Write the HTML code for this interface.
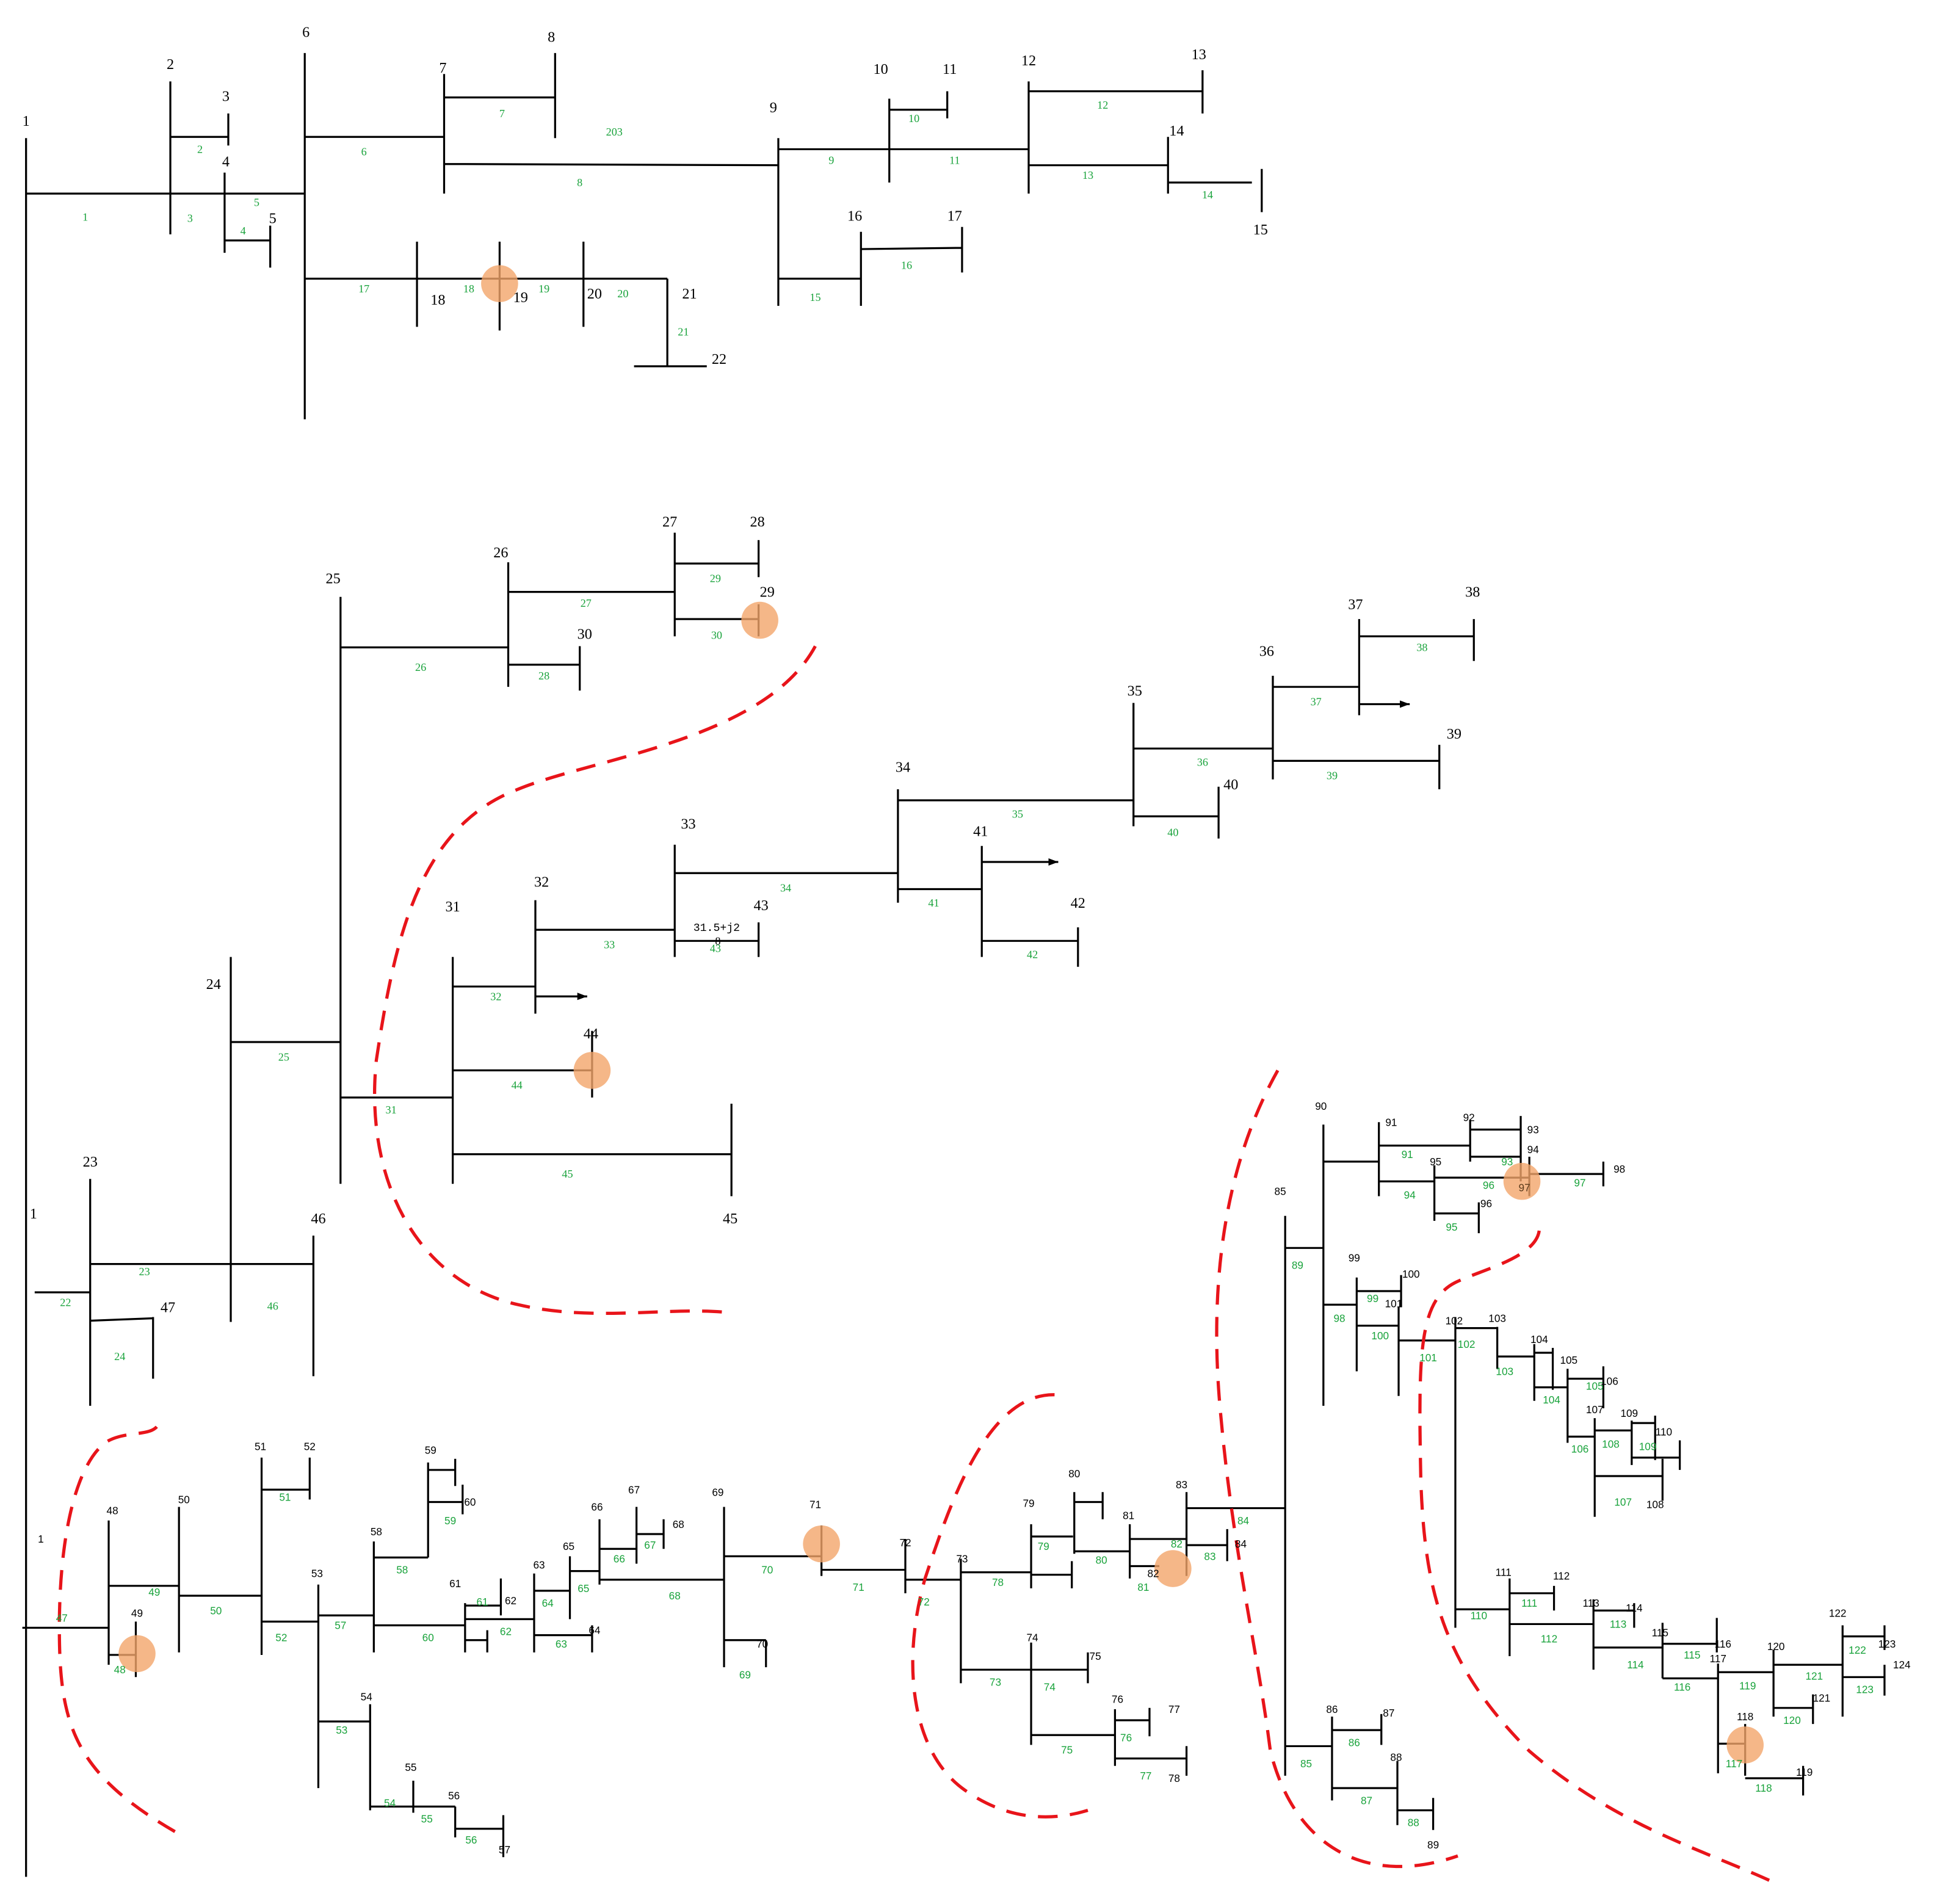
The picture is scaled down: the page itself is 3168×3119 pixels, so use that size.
<!DOCTYPE html>
<html><head><meta charset="utf-8">
<style>
html,body{margin:0;padding:0;background:#fff;}
svg{display:block;}
.b{font-family:"Liberation Serif",serif;font-size:12px;fill:#000;text-anchor:middle;}
.g{font-family:"Liberation Serif",serif;font-size:9px;fill:#1aa33c;text-anchor:middle;}
.s{font-family:"Liberation Sans",sans-serif;font-size:8.5px;fill:#000;text-anchor:middle;}
.h{font-family:"Liberation Sans",sans-serif;font-size:8.5px;fill:#1aa33c;text-anchor:middle;}
</style></head>
<body>
<svg width="3168" height="3119" viewBox="0 0 1568 1544" xmlns="http://www.w3.org/2000/svg">
<defs><marker id="ar" markerWidth="8" markerHeight="6" refX="8" refY="3" orient="auto" markerUnits="userSpaceOnUse"><path d="M0,0L8,3L0,6Z" fill="#000"/></marker></defs>
<g stroke="#000" stroke-width="1.6" fill="none">
<!-- top -->
<path d="M21,112V1522 M21,157H247 M138,66V190 M138,111H185 M185,92V118 M182,140V205 M182,195H219 M219,183V217 M247,43V340 M247,111H360 M360,60V157 M360,79H450 M450,43V112 M360,133L631,134 M631,112V248 M631,121H834 M721,80V148 M721,89H768 M768,74V96 M834,66V157 M834,74H975 M975,57V92 M834,134H947 M947,111V157 M947,148H1015 M1023,137V172 M631,226H698 M698,188V248 M698,202L780,201 M780,184V221 M247,226H541 M338,196V265 M405,196V268 M473,196V265 M541,226V297 M514,297H573"/>
<!-- middle -->
<path d="M276,484V960 M276,525H412 M412,456V557 M412,480H547 M547,432V516 M547,457H615 M615,438V468 M547,502H615 M615,490V516 M412,539H470 M470,524V560 M187,776V1072 M187,845H276 M276,890H367 M367,776V960 M367,800H434 M434,730V822 M434,754H547 M547,685V776 M547,763H615 M615,748V776 M547,708H728 M728,640V732 M728,649H919 M919,570V670 M919,607H1032 M1032,548V632 M1032,557H1102 M1102,502V580 M1102,516H1195 M1195,502V536 M1032,617H1167 M1167,604V640 M919,662H988 M988,638V680 M728,721H796 M796,686V776 M796,763H874 M874,752V784 M367,868H480 M480,836V890 M367,936H593 M593,895V970 M73,956V1140 M28,1048H73 M73,1025H254 M254,1002V1116 M73,1071L124,1069 M124,1068V1118"/>
<path d="M434,808H476" marker-end="url(#ar)"/>
<path d="M1102,571H1143" marker-end="url(#ar)"/>
<path d="M796,699H858" marker-end="url(#ar)"/>
<!-- bottom left -->
<path d="M18,1320H88 M88,1233V1350 M88,1286H145 M145,1222V1340 M88,1342H110 M110,1315V1360 M145,1294H212 M212,1182V1342 M212,1208H251 M251,1182V1216 M212,1315H258 M258,1285V1450 M258,1310H303 M303,1250V1340 M303,1263H347 M347,1186V1263 M347,1192H369 M369,1183V1205 M347,1218H375 M375,1204V1228 M303,1318H377 M377,1300V1340 M377,1302H406 M406,1280V1310 M377,1330H395 M395,1322V1340 M377,1313H433 M433,1276V1340 M433,1290H462 M462,1262V1313 M433,1326H480 M480,1318V1340 M462,1274H486 M486,1232V1285 M486,1256H516 M516,1222V1268 M516,1244H538 M538,1232V1256 M486,1281H587 M587,1222V1352 M587,1330H621 M621,1330V1352 M587,1262H666 M666,1237V1278 M666,1273H734 M734,1248V1292 M734,1281H779 M779,1264V1365 M779,1275H836 M836,1236V1288 M836,1246H870 M836,1277H869 M869,1266V1288 M871,1210V1260 M871,1218H894 M894,1210V1232 M871,1258H916 M916,1236V1280 M916,1270H940 M916,1248H962 M962,1210V1278 M962,1253H995 M995,1240V1266 M962,1223H1042 M1042,986V1440 M779,1354H882 M882,1340V1365 M836,1332V1415 M836,1407H904 M904,1386V1432 M904,1395H932 M932,1385V1408 M904,1426H962 M962,1416V1440 M258,1396H300 M300,1382V1468 M300,1465H335 M335,1444V1470 M335,1465H369 M369,1465V1490 M369,1483H408 M408,1472V1506"/>
<!-- right -->
<path d="M1073,912V1140 M1042,1012H1073 M1073,942H1118 M1118,910V970 M1118,929H1192 M1192,908V942 M1192,916H1233 M1192,938H1233 M1233,905V958 M1118,958H1163 M1163,945V990 M1163,955H1240 M1240,938V970 M1240,952H1300 M1300,942V962 M1163,984H1199 M1199,975V1000 M1073,1058H1100 M1100,1036V1112 M1100,1047H1136 M1136,1034V1060 M1100,1075H1134 M1134,1060V1132 M1134,1087H1180 M1180,1068V1320 M1180,1077H1214 M1214,1076V1110 M1214,1100H1244 M1244,1090V1136 M1244,1097H1259 M1259,1093V1127 M1244,1125H1271 M1271,1110V1170 M1271,1118H1300 M1300,1108V1142 M1271,1165H1293 M1293,1150V1230 M1293,1160H1323 M1323,1152V1188 M1323,1154H1342 M1342,1148V1184 M1323,1182H1362 M1362,1168V1192 M1293,1197H1348 M1348,1183V1217 M1180,1305H1224 M1224,1280V1343 M1224,1292H1260 M1260,1286V1306 M1224,1317H1292 M1292,1297V1354 M1292,1306H1325 M1325,1300V1320 M1292,1336H1348 M1348,1316V1361 M1348,1333H1392 M1392,1312V1340 M1348,1361H1393 M1393,1349V1438 M1393,1356H1438 M1438,1338V1392 M1438,1350H1494 M1494,1318V1392 M1494,1327H1528 M1528,1318V1338 M1494,1360H1528 M1528,1350V1375 M1438,1385H1470 M1470,1374V1398 M1393,1414H1415 M1415,1398V1440 M1415,1442H1462 M1462,1432V1456 M1042,1416H1080 M1080,1392V1460 M1080,1403H1120 M1120,1390V1415 M1080,1450H1133 M1133,1428V1480 M1133,1468H1162 M1162,1458V1484"/>
</g>
<!-- circles -->
<g fill="#f2a56a" fill-opacity="0.8">
<circle cx="405" cy="230" r="15"/><circle cx="616" cy="503" r="15"/><circle cx="480" cy="868" r="15"/>
<circle cx="111" cy="1341" r="15"/><circle cx="666" cy="1252" r="15"/><circle cx="951" cy="1272" r="15"/>
<circle cx="1234" cy="958" r="15"/><circle cx="1415" cy="1415" r="15"/>
</g>
<!-- dashed curves -->
<g stroke="#e8141a" stroke-width="2.6" fill="none" stroke-dasharray="16,10">
<path d="M661,524 C620,600 480,615 420,640 C340,670 320,760 305,860 C295,960 340,1040 420,1058 C480,1072 540,1060 587,1064"/>
<path d="M1036,868 C990,950 980,1050 990,1150 C1000,1260 1020,1340 1030,1420 C1050,1500 1110,1530 1182,1505"/>
<path d="M1248,998 C1245,1020 1200,1030 1180,1040 C1150,1055 1150,1100 1152,1200 C1155,1290 1170,1350 1240,1420 C1310,1480 1380,1500 1435,1525"/>
<path d="M855,1131 C800,1130 770,1220 750,1280 C730,1350 740,1420 780,1450 C820,1480 860,1475 882,1468"/>
<path d="M127,1157 C120,1165 100,1160 85,1170 C60,1190 48,1250 48,1320 C48,1400 60,1440 150,1490"/>
</g>
<!-- top labels -->
<g class="b">
<text x="21" y="102">1</text><text x="138" y="56">2</text><text x="183" y="82">3</text><text x="183" y="135">4</text><text x="221" y="181">5</text><text x="248" y="30">6</text><text x="359" y="59">7</text><text x="447" y="34">8</text><text x="627" y="91">9</text><text x="714" y="60">10</text><text x="770" y="60">11</text><text x="834" y="53">12</text><text x="972" y="48">13</text><text x="954" y="110">14</text><text x="1022" y="190">15</text><text x="693" y="179">16</text><text x="774" y="179">17</text><text x="355" y="247">18</text><text x="422" y="245">19</text><text x="482" y="242">20</text><text x="559" y="242">21</text><text x="583" y="295">22</text>
<text x="270" y="473">25</text><text x="406" y="452">26</text><text x="543" y="427">27</text><text x="614" y="427">28</text><text x="622" y="484">29</text><text x="474" y="518">30</text><text x="173" y="802">24</text><text x="367" y="739">31</text><text x="439" y="719">32</text><text x="558" y="672">33</text><text x="617" y="738">43</text><text x="732" y="626">34</text><text x="920" y="564">35</text><text x="1027" y="532">36</text><text x="1099" y="494">37</text><text x="1194" y="484">38</text><text x="1179" y="599">39</text><text x="998" y="640">40</text><text x="795" y="678">41</text><text x="874" y="736">42</text><text x="479" y="842">44</text><text x="592" y="992">45</text><text x="73" y="946">23</text><text x="27" y="988">1</text><text x="258" y="992">46</text><text x="136" y="1064">47</text>
</g>
<text x="581" y="755" style="font-family:'Liberation Mono',monospace;font-size:9px;text-anchor:middle">31.5+j2</text>
<text x="582" y="766" class="g" style="fill:#000">8</text>
<g class="g">
<text x="69" y="179">1</text><text x="162" y="124">2</text><text x="154" y="180">3</text><text x="197" y="190">4</text><text x="208" y="167">5</text><text x="295" y="126">6</text><text x="407" y="95">7</text><text x="470" y="151">8</text><text x="498" y="110">203</text><text x="674" y="133">9</text><text x="741" y="99">10</text><text x="774" y="133">11</text><text x="894" y="88">12</text><text x="882" y="145">13</text><text x="979" y="161">14</text><text x="661" y="244">15</text><text x="735" y="218">16</text><text x="295" y="237">17</text><text x="380" y="237">18</text><text x="441" y="237">19</text><text x="505" y="241">20</text><text x="554" y="272">21</text>
<text x="341" y="544">26</text><text x="475" y="492">27</text><text x="580" y="472">29</text><text x="581" y="518">30</text><text x="441" y="551">28</text><text x="230" y="860">25</text><text x="317" y="903">31</text><text x="402" y="811">32</text><text x="494" y="769">33</text><text x="580" y="772">43</text><text x="637" y="723">34</text><text x="825" y="663">35</text><text x="975" y="621">36</text><text x="1067" y="572">37</text><text x="1153" y="528">38</text><text x="1080" y="632">39</text><text x="951" y="678">40</text><text x="757" y="735">41</text><text x="837" y="777">42</text><text x="419" y="883">44</text><text x="460" y="955">45</text><text x="53" y="1059">22</text><text x="117" y="1034">23</text><text x="221" y="1062">46</text><text x="97" y="1103">24</text>
</g>
<!-- bottom labels -->
<g class="s">
<text x="33" y="1251">1</text><text x="91" y="1228">48</text><text x="149" y="1219">50</text><text x="111" y="1311">49</text><text x="211" y="1176">51</text><text x="251" y="1176">52</text><text x="257" y="1279">53</text><text x="305" y="1245">58</text><text x="349" y="1179">59</text><text x="381" y="1221">60</text><text x="369" y="1287">61</text><text x="414" y="1301">62</text><text x="437" y="1272">63</text><text x="482" y="1325">64</text><text x="461" y="1257">65</text><text x="484" y="1225">66</text><text x="514" y="1211">67</text><text x="550" y="1239">68</text><text x="582" y="1213">69</text><text x="618" y="1336">70</text><text x="661" y="1223">71</text><text x="734" y="1254">72</text><text x="780" y="1267">73</text><text x="834" y="1222">79</text><text x="871" y="1198">80</text><text x="915" y="1232">81</text><text x="935" y="1279">82</text><text x="958" y="1207">83</text><text x="1006" y="1255">84</text><text x="1038" y="969">85</text><text x="888" y="1346">75</text><text x="837" y="1331">74</text><text x="906" y="1381">76</text><text x="952" y="1389">77</text><text x="952" y="1445">78</text><text x="297" y="1379">54</text><text x="333" y="1436">55</text><text x="368" y="1459">56</text><text x="409" y="1503">57</text>
<text x="1071" y="900">90</text><text x="1128" y="913">91</text><text x="1191" y="909">92</text><text x="1243" y="919">93</text><text x="1243" y="935">94</text><text x="1164" y="945">95</text><text x="1313" y="951">98</text><text x="1205" y="979">96</text><text x="1098" y="1023">99</text><text x="1144" y="1036">100</text><text x="1130" y="1060">101</text><text x="1179" y="1074">102</text><text x="1214" y="1072">103</text><text x="1248" y="1089">104</text><text x="1272" y="1106">105</text><text x="1305" y="1123">106</text><text x="1293" y="1146">107</text><text x="1321" y="1149">109</text><text x="1349" y="1164">110</text><text x="1342" y="1223">108</text><text x="1219" y="1278">111</text><text x="1266" y="1281">112</text><text x="1290" y="1303">113</text><text x="1325" y="1307">114</text><text x="1346" y="1327">115</text><text x="1397" y="1336">116</text><text x="1393" y="1348">117</text><text x="1440" y="1338">120</text><text x="1490" y="1311">122</text><text x="1530" y="1336">123</text><text x="1542" y="1353">124</text><text x="1477" y="1380">121</text><text x="1415" y="1395">118</text><text x="1463" y="1440">119</text><text x="1080" y="1389">86</text><text x="1126" y="1392">87</text><text x="1132" y="1428">88</text><text x="1162" y="1499">89</text>
</g>
<g class="h">
<text x="50" y="1315">47</text><text x="125" y="1294">49</text><text x="97" y="1357">48</text><text x="175" y="1309">50</text><text x="231" y="1217">51</text><text x="228" y="1331">52</text><text x="276" y="1321">57</text><text x="326" y="1276">58</text><text x="365" y="1236">59</text><text x="347" y="1331">60</text><text x="391" y="1302">61</text><text x="410" y="1326">62</text><text x="444" y="1303">64</text><text x="455" y="1336">63</text><text x="473" y="1291">65</text><text x="502" y="1267">66</text><text x="527" y="1256">67</text><text x="547" y="1297">68</text><text x="604" y="1361">69</text><text x="622" y="1276">70</text><text x="696" y="1290">71</text><text x="749" y="1302">72</text><text x="809" y="1286">78</text><text x="846" y="1257">79</text><text x="893" y="1268">80</text><text x="927" y="1290">81</text><text x="954" y="1255">82</text><text x="981" y="1265">83</text><text x="1008" y="1236">84</text><text x="807" y="1367">73</text><text x="851" y="1371">74</text><text x="865" y="1422">75</text><text x="913" y="1412">76</text><text x="929" y="1443">77</text><text x="277" y="1406">53</text><text x="316" y="1465">54</text><text x="346" y="1478">55</text><text x="382" y="1495">56</text>
<text x="1052" y="1029">89</text><text x="1141" y="939">91</text><text x="1222" y="945">93</text><text x="1143" y="972">94</text><text x="1207" y="964">96</text><text x="1236" y="966" style="fill:#5a3a1a">97</text><text x="1281" y="962">97</text><text x="1177" y="998">95</text><text x="1086" y="1072">98</text><text x="1113" y="1056">99</text><text x="1119" y="1086">100</text><text x="1158" y="1104">101</text><text x="1189" y="1093">102</text><text x="1220" y="1115">103</text><text x="1258" y="1138">104</text><text x="1293" y="1127">105</text><text x="1281" y="1178">106</text><text x="1306" y="1174">108</text><text x="1336" y="1176">109</text><text x="1316" y="1221">107</text><text x="1199" y="1313">110</text><text x="1240" y="1303">111</text><text x="1256" y="1332">112</text><text x="1312" y="1320">113</text><text x="1326" y="1353">114</text><text x="1372" y="1345">115</text><text x="1364" y="1371">116</text><text x="1417" y="1370">119</text><text x="1471" y="1362">121</text><text x="1506" y="1341">122</text><text x="1512" y="1373">123</text><text x="1453" y="1398">120</text><text x="1406" y="1433">117</text><text x="1430" y="1453">118</text><text x="1059" y="1433">85</text><text x="1098" y="1416">86</text><text x="1108" y="1463">87</text><text x="1146" y="1481">88</text>
</g>
</svg>
</body></html>
